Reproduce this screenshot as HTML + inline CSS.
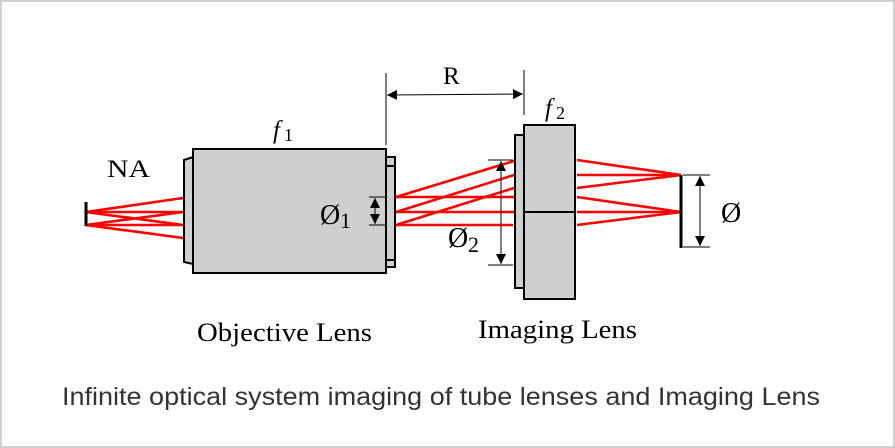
<!DOCTYPE html>
<html><head><meta charset="utf-8"><style>
html,body{margin:0;padding:0;background:#fff}
svg{display:block}
</style></head><body>
<svg width="895" height="448" viewBox="0 0 895 448" xmlns="http://www.w3.org/2000/svg">
<defs>
<marker id="ah" viewBox="0 0 10 10" refX="10" refY="5" markerWidth="11" markerHeight="10" markerUnits="userSpaceOnUse" orient="auto-start-reverse"><path d="M0,0 L10,5 L0,10 z" fill="#000"/></marker>
</defs>
<rect x="1" y="1" width="893" height="446" fill="#fff" stroke="#d0d0d0" stroke-width="2"/>
<g stroke="#f00" stroke-width="2.6" fill="none">
<line x1="86" y1="212" x2="183" y2="198"/>
<line x1="86" y1="212" x2="183" y2="212"/>
<line x1="86" y1="212" x2="183" y2="225"/>
<line x1="86" y1="225" x2="183" y2="212"/>
<line x1="86" y1="225" x2="183" y2="225"/>
<line x1="86" y1="225" x2="183" y2="238"/>
<line x1="396" y1="197" x2="514" y2="161"/>
<line x1="396" y1="212" x2="514" y2="175"/>
<line x1="396" y1="225" x2="514" y2="188"/>
<line x1="396" y1="197" x2="514" y2="197"/>
<line x1="396" y1="212" x2="514" y2="212"/>
<line x1="396" y1="225" x2="513" y2="225"/>
<line x1="577" y1="160" x2="681" y2="175"/>
<line x1="577" y1="175" x2="681" y2="175"/>
<line x1="577" y1="188" x2="681" y2="175"/>
<line x1="577" y1="197" x2="681" y2="212"/>
<line x1="577" y1="212" x2="681" y2="212"/>
<line x1="577" y1="225" x2="681" y2="212"/>
</g>
<g stroke="#000" stroke-width="2" fill="#d0cfd0">
<path d="M184,160 L193,157 L193,264 L184,262 Z"/>
<rect x="193" y="149" width="193" height="124"/>
<rect x="386" y="157" width="9" height="110"/>
<line x1="386" y1="166" x2="395" y2="166"/>
<line x1="386" y1="260" x2="395" y2="260"/>
<rect x="515" y="135" width="9" height="153"/>
<rect x="524" y="125" width="51" height="174"/>
<line x1="524" y1="212" x2="575" y2="212"/>
</g>
<g stroke="#000" fill="none">
<line x1="86" y1="202" x2="86" y2="226" stroke-width="3"/>
<line x1="681" y1="175" x2="681" y2="248" stroke-width="3"/>
<line x1="386" y1="73" x2="386" y2="145" stroke-width="1"/>
<line x1="524" y1="70" x2="524" y2="115" stroke-width="1"/>
<line x1="387" y1="95" x2="523" y2="94" stroke-width="1" marker-start="url(#ah)" marker-end="url(#ah)"/>
<line x1="369" y1="197" x2="386" y2="197" stroke-width="1"/>
<line x1="369" y1="225" x2="386" y2="225" stroke-width="1"/>
<line x1="375" y1="198" x2="375" y2="224" stroke-width="1" marker-start="url(#ah)" marker-end="url(#ah)"/>
<line x1="488" y1="160" x2="513" y2="160" stroke-width="1"/>
<line x1="488" y1="265" x2="513" y2="265" stroke-width="1"/>
<line x1="501" y1="161" x2="501" y2="264" stroke-width="1" marker-start="url(#ah)" marker-end="url(#ah)"/>
<line x1="683" y1="175" x2="710" y2="175" stroke-width="1"/>
<line x1="683" y1="247" x2="710" y2="247" stroke-width="1"/>
<line x1="700" y1="176" x2="700" y2="246" stroke-width="1" marker-start="url(#ah)" marker-end="url(#ah)"/>
</g>
<g font-family="Liberation Serif, serif" fill="#000">
<text x="107" y="177" font-size="25" textLength="43" lengthAdjust="spacingAndGlyphs">NA</text>
<text x="273" y="138" font-size="25" font-style="italic">f</text><text x="284" y="141" font-size="18">1</text>
<text x="545" y="116" font-size="25" font-style="italic">f</text><text x="556" y="119" font-size="18">2</text>
<text x="443" y="84" font-size="25">R</text>
<text x="320" y="224" font-size="28">Ø</text><text x="340" y="228" font-size="22">1</text>
<text x="448" y="247" font-size="28">Ø</text><text x="468" y="252" font-size="22">2</text>
<text x="721" y="222" font-size="28">Ø</text>
<text x="197" y="341" font-size="26" textLength="175" lengthAdjust="spacingAndGlyphs">Objective Lens</text>
<text x="478" y="338" font-size="26" textLength="159" lengthAdjust="spacingAndGlyphs">Imaging Lens</text>
</g>
<text x="62" y="405" font-family="Liberation Sans, sans-serif" font-size="25" fill="#333" textLength="758" lengthAdjust="spacingAndGlyphs">Infinite optical system imaging of tube lenses and Imaging Lens</text>
</svg>
</body></html>
